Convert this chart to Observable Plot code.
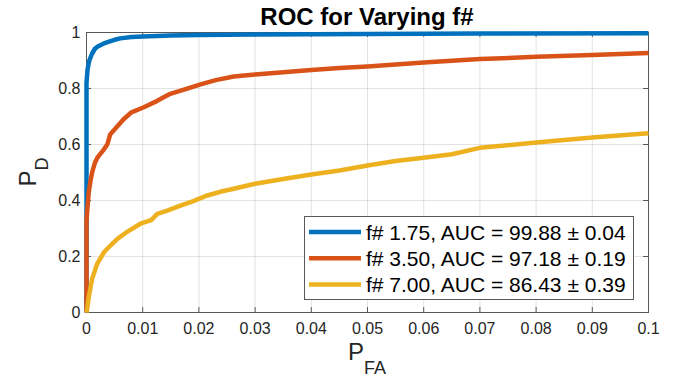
<!DOCTYPE html>
<html>
<head>
<meta charset="utf-8">
<script src="https://cdn.jsdelivr.net/npm/d3@7"></script>
<script src="https://cdn.jsdelivr.net/npm/@observablehq/plot@0.6"></script>
<style>
  html, body { margin: 0; padding: 0; background: #fff; }
  svg { display: block; }
</style>
</head>
<body>
<script>
// ---- Data ----
const titleText = "ROC for Varying f#";
const seriesNames = ["f# 1.75, AUC = 99.88 \u00B1 0.04", "f# 3.50, AUC = 97.18 \u00B1 0.19", "f# 7.00, AUC = 86.43 \u00B1 0.39"];
const seriesColors = ["#0072BD", "#D95319", "#EDB120"];

const fpr1 = [0, 0, 0.0002, 0.0005, 0.001, 0.0015, 0.002, 0.003, 0.004, 0.005, 0.006, 0.008, 0.01, 0.015, 0.02, 0.03, 0.05, 0.07, 0.1];
const pd1  = [0, 0.82, 0.87, 0.9, 0.925, 0.942, 0.95, 0.96, 0.967, 0.974, 0.979, 0.984, 0.986, 0.989, 0.991, 0.993, 0.995, 0.996, 0.997];

const fpr2 = [0, 0, 0.0002, 0.0004, 0.0007, 0.001, 0.0015, 0.002, 0.003, 0.0037, 0.0042, 0.0046, 0.0055, 0.0066, 0.008, 0.0102, 0.0125, 0.0149, 0.0175, 0.0203, 0.023, 0.0262, 0.03, 0.035, 0.04, 0.045, 0.05, 0.06, 0.07, 0.08, 0.09, 0.1];
const pd2  = [0, 0.33, 0.38, 0.43, 0.47, 0.50, 0.535, 0.555, 0.58, 0.60, 0.635, 0.645, 0.665, 0.69, 0.715, 0.733, 0.755, 0.781, 0.797, 0.815, 0.83, 0.843, 0.85, 0.858, 0.866, 0.873, 0.879, 0.893, 0.905, 0.913, 0.92, 0.927];

const fpr3 = [0, 0.0001, 0.0004, 0.001, 0.0019, 0.0031, 0.0043, 0.0055, 0.007, 0.0096, 0.0115, 0.0126, 0.0145, 0.0167, 0.019, 0.0215, 0.024, 0.0262, 0.03, 0.035, 0.04, 0.045, 0.05, 0.055, 0.06, 0.065, 0.07, 0.08, 0.09, 0.1];
const pd3  = [0, 0.01, 0.055, 0.12, 0.174, 0.215, 0.24, 0.263, 0.285, 0.317, 0.33, 0.352, 0.365, 0.382, 0.398, 0.418, 0.432, 0.442, 0.46, 0.477, 0.493, 0.507, 0.525, 0.541, 0.553, 0.565, 0.588, 0.607, 0.625, 0.64];

const xTicks = [0, 0.01, 0.02, 0.03, 0.04, 0.05, 0.06, 0.07, 0.08, 0.09, 0.1];
const xTickLabels = ["0", "0.01", "0.02", "0.03", "0.04", "0.05", "0.06", "0.07", "0.08", "0.09", "0.1"];
const yTicks = [0, 0.2, 0.4, 0.6, 0.8, 1];
const yTickLabels = ["0", "0.2", "0.4", "0.6", "0.8", "1"];

// ---- Layout ----
const W = 676, H = 379;
const mL = 86, mR = 28, mT = 32, mB = 67;
const plotW = W - mL - mR, plotH = H - mT - mB;
const axisColor = "#262626";
const font = "'Liberation Sans', Arial, Helvetica, sans-serif";

const toRows = (xs, ys) => xs.map((x, i) => ({x, y: ys[i]}));
const series = [toRows(fpr1, pd1), toRows(fpr2, pd2), toRows(fpr3, pd3)];

const svg = Plot.plot({
  width: W, height: H,
  marginLeft: mL, marginRight: mR, marginTop: mT, marginBottom: mB,
  style: {fontFamily: font, fontSize: "16px", color: axisColor, background: "#fff", overflow: "visible"},
  x: {domain: [0, 0.1]},
  y: {domain: [0, 1]},
  marks: [
    Plot.gridX(xTicks, {stroke: axisColor, strokeOpacity: 0.13}),
    Plot.gridY(yTicks, {stroke: axisColor, strokeOpacity: 0.13}),
    Plot.frame({stroke: "#595959", strokeWidth: 1}),
    Plot.tickX(xTicks, {x: d => d, insetTop: plotH - 5, stroke: "#595959"}),
    Plot.tickX(xTicks, {x: d => d, insetBottom: plotH - 5, stroke: "#595959"}),
    Plot.tickY(yTicks, {y: d => d, insetRight: plotW - 5, stroke: "#595959"}),
    Plot.tickY(yTicks, {y: d => d, insetLeft: plotW - 5, stroke: "#595959"}),
    Plot.axisX(xTicks, {tickSize: 0, tickPadding: 10, fontSize: 16, fill: axisColor,
      tickFormat: d => xTickLabels[xTicks.indexOf(d)], label: null}),
    Plot.axisY(yTicks, {tickSize: 0, tickPadding: 6, fontSize: 16, fill: axisColor,
      tickFormat: d => yTickLabels[yTicks.indexOf(d)], label: null}),
    ...series.map((rows, i) => Plot.line(rows, {x: "x", y: "y", stroke: seriesColors[i],
      strokeWidth: 4.5, strokeLinejoin: "round", strokeLinecap: "butt"}))
  ]
});

document.body.appendChild(svg);
const s = d3.select(svg);

// Title
s.append("text")
  .attr("x", mL + plotW / 2).attr("y", 25)
  .attr("text-anchor", "middle")
  .attr("font-family", font).attr("font-weight", "bold").attr("font-size", 24)
  .attr("fill", "#000")
  .text(titleText);

// X label P_FA
const xl = s.append("text")
  .attr("x", mL + plotW / 2).attr("y", 360)
  .attr("text-anchor", "middle")
  .attr("font-family", font).attr("font-size", 24).attr("fill", axisColor);
xl.append("tspan").text("P");
xl.append("tspan").attr("dy", 14).attr("font-size", 18).text("FA");

// Y label P_D
const yl = s.append("text")
  .attr("transform", `translate(36, ${mT + plotH / 2}) rotate(-90)`)
  .attr("text-anchor", "middle")
  .attr("font-family", font).attr("font-size", 24).attr("fill", axisColor);
yl.append("tspan").text("P");
yl.append("tspan").attr("dy", 12).attr("font-size", 18).text("D");

// Legend
const lx = 304, ly = 216, lw = 329, lh = 83, rowH = 26.3, row0 = 232;
const lg = s.append("g");
lg.append("rect").attr("x", lx + 0.5).attr("y", ly + 0.5).attr("width", lw).attr("height", lh)
  .attr("fill", "#fff").attr("stroke", "#595959").attr("stroke-width", 1);
seriesNames.forEach((name, i) => {
  const cy = row0 + i * rowH;
  lg.append("line").attr("x1", 309).attr("x2", 361).attr("y1", cy).attr("y2", cy)
    .attr("stroke", seriesColors[i]).attr("stroke-width", 4.5);
  lg.append("text").attr("x", 366).attr("y", cy + 7.5)
    .attr("text-anchor", "start")
    .attr("font-family", font).attr("font-size", 21).attr("fill", "#000")
    .text(name);
});
</script>
</body>
</html>
